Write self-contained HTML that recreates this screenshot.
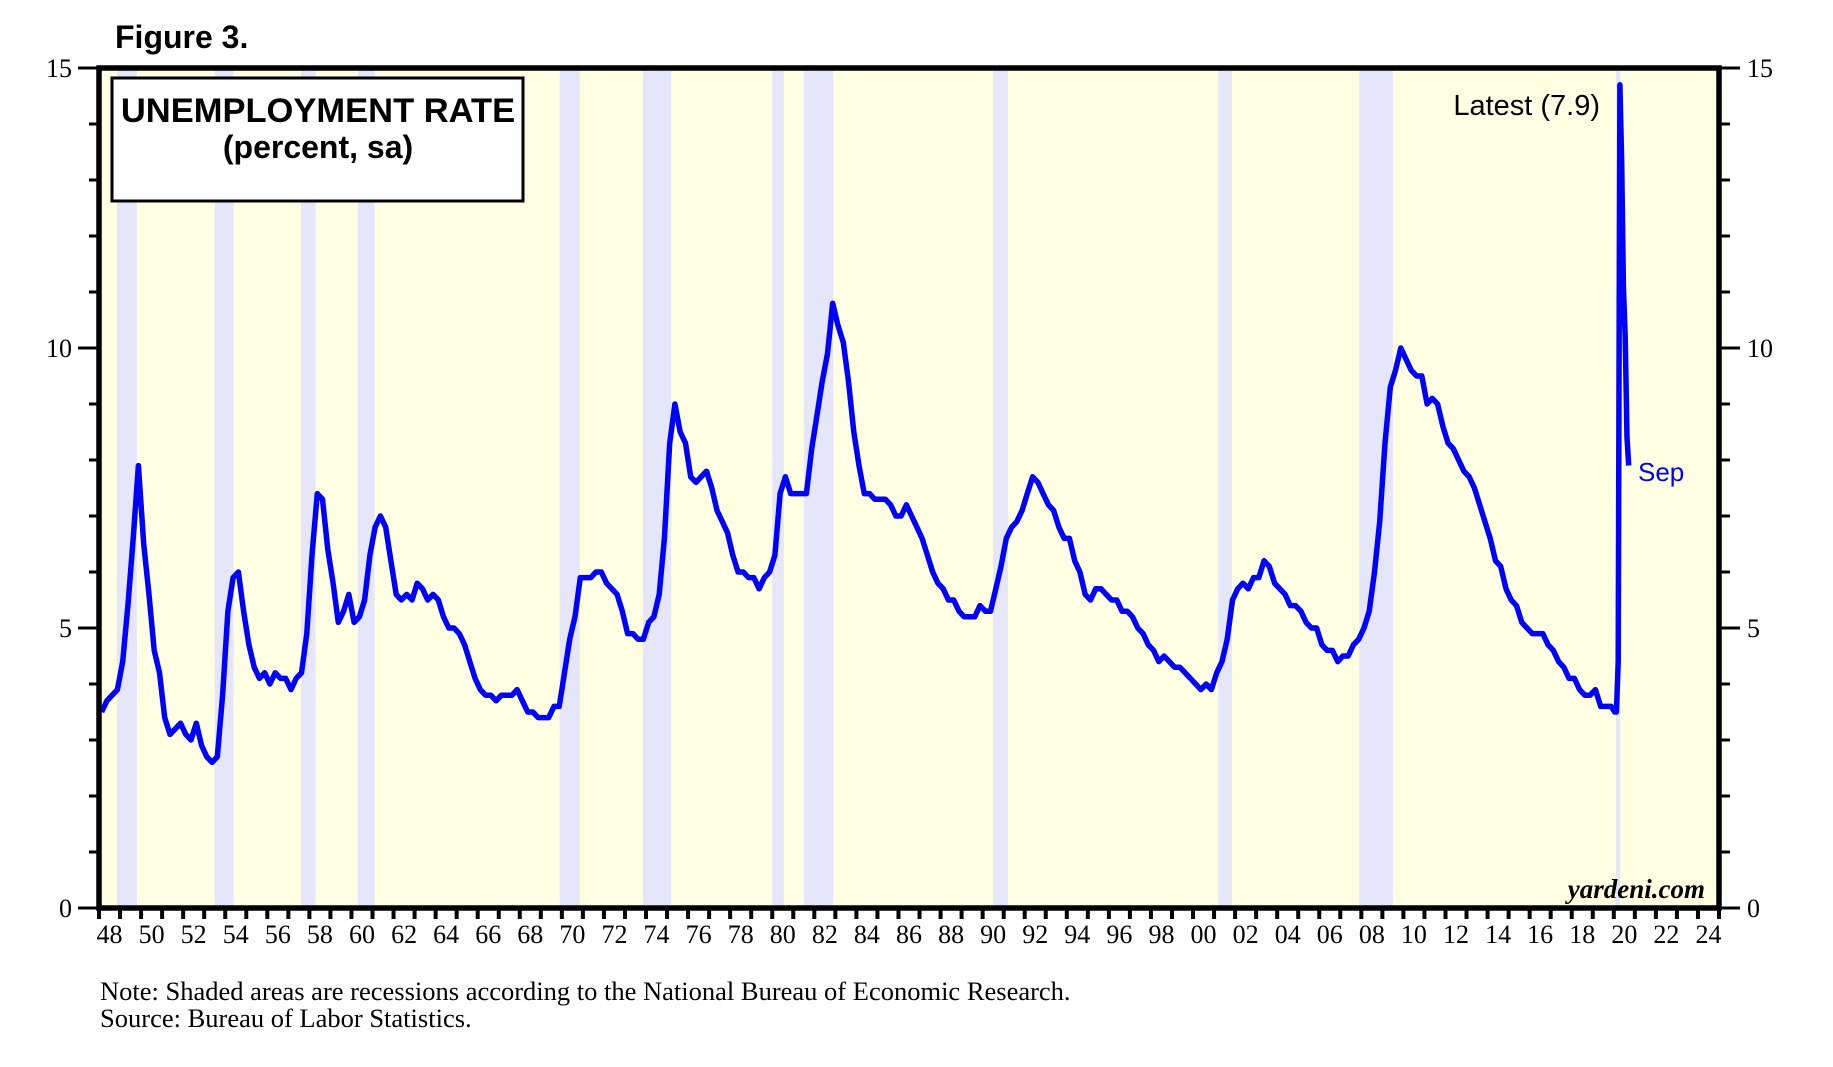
<!DOCTYPE html>
<html><head><meta charset="utf-8"><style>
html,body{margin:0;padding:0;background:#fff;}
svg{display:block;}
</style></head><body>
<svg id="chart" width="1833" height="1067" viewBox="0 0 1833 1067" xmlns="http://www.w3.org/2000/svg">
<text x="115" y="48" font-family="Liberation Sans, sans-serif" font-weight="bold" font-size="32">Figure 3.</text>
<rect x="99" y="68" width="1620" height="840" fill="#ffffe3"/>
<g id="rec"></g>
<g id="ticks"></g>
<g id="line"></g>
<rect x="99" y="68" width="1620" height="840" fill="none" stroke="#000" stroke-width="5.5"/>
<rect x="112" y="78" width="411" height="123" fill="#fff" stroke="#000" stroke-width="3"/>
<text x="318" y="122" text-anchor="middle" font-family="Liberation Sans, sans-serif" font-weight="bold" font-size="34.5">UNEMPLOYMENT RATE</text>
<text x="318" y="158" text-anchor="middle" font-family="Liberation Sans, sans-serif" font-weight="bold" font-size="32">(percent, sa)</text>
<text x="1600" y="115" text-anchor="end" font-family="Liberation Sans, sans-serif" font-size="29">Latest (7.9)</text>
<text x="1638" y="481" font-family="Liberation Sans, sans-serif" font-size="26" fill="#0000ff">Sep</text>
<text x="1705" y="898" text-anchor="end" font-family="Liberation Serif, serif" font-style="italic" font-weight="bold" font-size="27">yardeni.com</text>
<text x="100" y="1000" font-family="Liberation Serif, serif" font-size="26.5">Note: Shaded areas are recessions according to the National Bureau of Economic Research.</text>
<text x="100" y="1027" font-family="Liberation Serif, serif" font-size="26.5">Source: Bureau of Labor Statistics.</text>
</svg>
<script>
const recessionStarts=[1948.85,1953.5,1957.6,1960.3,1969.9,1973.85,1980.0,1981.5,1990.5,2001.2,2007.9,2020.1];
const recessionEnds=[1949.8,1954.4,1958.3,1961.1,1970.85,1975.2,1980.55,1982.9,1991.2,2001.85,2009.5,2020.3];
const firstYear=1948;
const quarterlyRate=[
3.5,3.7,3.8,3.9, 4.4,5.4,6.6,7.9, 6.5,5.6,4.6,4.2, 3.4,3.1,3.2,3.3, 3.1,3.0,3.3,2.9, 2.7,2.6,2.7,3.8,
5.3,5.9,6.0,5.3, 4.7,4.3,4.1,4.2, 4.0,4.2,4.1,4.1, 3.9,4.1,4.2,4.9, 6.3,7.4,7.3,6.4, 5.8,5.1,5.3,5.6,
5.1,5.2,5.5,6.3, 6.8,7.0,6.8,6.2, 5.6,5.5,5.6,5.5, 5.8,5.7,5.5,5.6, 5.5,5.2,5.0,5.0, 4.9,4.7,4.4,4.1,
3.9,3.8,3.8,3.7, 3.8,3.8,3.8,3.9, 3.7,3.5,3.5,3.4, 3.4,3.4,3.6,3.6, 4.2,4.8,5.2,5.9, 5.9,5.9,6.0,6.0,
5.8,5.7,5.6,5.3, 4.9,4.9,4.8,4.8, 5.1,5.2,5.6,6.6, 8.3,9.0,8.5,8.3, 7.7,7.6,7.7,7.8, 7.5,7.1,6.9,6.7,
6.3,6.0,6.0,5.9, 5.9,5.7,5.9,6.0, 6.3,7.4,7.7,7.4, 7.4,7.4,7.4,8.2, 8.8,9.4,9.9,10.8, 10.4,10.1,9.4,8.5,
7.9,7.4,7.4,7.3, 7.3,7.3,7.2,7.0, 7.0,7.2,7.0,6.8, 6.6,6.3,6.0,5.8, 5.7,5.5,5.5,5.3, 5.2,5.2,5.2,5.4,
5.3,5.3,5.7,6.1, 6.6,6.8,6.9,7.1, 7.4,7.7,7.6,7.4, 7.2,7.1,6.8,6.6, 6.6,6.2,6.0,5.6, 5.5,5.7,5.7,5.6,
5.5,5.5,5.3,5.3, 5.2,5.0,4.9,4.7, 4.6,4.4,4.5,4.4, 4.3,4.3,4.2,4.1, 4.0,3.9,4.0,3.9, 4.2,4.4,4.8,5.5,
5.7,5.8,5.7,5.9, 5.9,6.2,6.1,5.8, 5.7,5.6,5.4,5.4, 5.3,5.1,5.0,5.0, 4.7,4.6,4.6,4.4, 4.5,4.5,4.7,4.8,
5.0,5.3,6.0,6.9, 8.3,9.3,9.6,10.0, 9.8,9.6,9.5,9.5, 9.0,9.1,9.0,8.6, 8.3,8.2,8.0,7.8, 7.7,7.5,7.2,6.9,
6.6,6.2,6.1,5.7, 5.5,5.4,5.1,5.0, 4.9,4.9,4.9,4.7, 4.6,4.4,4.3,4.1, 4.1,3.9,3.8,3.8, 3.9,3.6,3.6,3.6];
const rate2020Monthly=[3.5,3.5,4.4,14.7,13.3,11.1,10.2,8.4,7.9];
const yTicks=[0,5,10,15];
const yTickLabels=["0","5","10","15"];
const xLabelYears=[];
for(let y=1948;y<=2024;y+=2) xLabelYears.push(y);

const X0=99,X1=1719,Y0=908,Y1=68;
const xMin=1948,xMax=2025,yMin=0,yMax=15;
function xs(t){return X0+(t-xMin)/(xMax-xMin)*(X1-X0);}
function ys(v){return Y0-(v-yMin)/(yMax-yMin)*(Y0-Y1);}
const NS="http://www.w3.org/2000/svg";
function mk(tag,attrs,parent){const e=document.createElementNS(NS,tag);for(const k in attrs)e.setAttribute(k,attrs[k]);parent.appendChild(e);return e;}

const rec=document.getElementById('rec');
recessionStarts.forEach((s,i)=>{
  const r=mk('rect',{x:xs(s),y:Y1,width:Math.max(2,xs(recessionEnds[i])-xs(s)),height:Y0-Y1,fill:'#e6e6fa'},rec);
  
  
});

const tk=document.getElementById('ticks');
for(let v=0;v<=15;v++){
  const major=v%5===0;
  const l1=mk('line',{x1:major?78:89,x2:X0,y1:ys(v),y2:ys(v),stroke:'#000','stroke-width':3},tk);
  
  
  const l2=mk('line',{x1:X1,x2:major?1740:1730,y1:ys(v),y2:ys(v),stroke:'#000','stroke-width':3},tk);
  
  
}
yTicks.forEach((v,i)=>{
  const a=mk('text',{x:72,y:ys(v)+9,'text-anchor':'end','font-family':'Liberation Serif, serif','font-size':26},tk);
  a.textContent=yTickLabels[i];
  
  
  const b=mk('text',{x:1747,y:ys(v)+9,'font-family':'Liberation Serif, serif','font-size':26},tk);
  b.textContent=yTickLabels[i];
  
  
});
for(let y=1948;y<=2025;y++){
  const t=mk('line',{x1:xs(y),x2:xs(y),y1:Y0,y2:Y0+11,stroke:'#000','stroke-width':4},tk);
  
  
}
xLabelYears.forEach(y=>{
  const t=mk('text',{x:xs(y+0.5),y:943,'text-anchor':'middle','font-family':'Liberation Serif, serif','font-size':26},tk);
  t.textContent=String(y%100).padStart(2,'0');
  
  
});

const pts=[];
quarterlyRate.forEach((v,i)=>{pts.push([firstYear+(i+0.5)/4,v]);});
rate2020Monthly.forEach((v,i)=>{pts.push([2020+(i+0.5)/12,v]);});
const d=pts.map((p,i)=>(i?'L':'M')+xs(p[0]).toFixed(1)+' '+ys(p[1]).toFixed(1)).join(' ');
const path=mk('path',{d:d,fill:'none',stroke:'#0000ff','stroke-width':5.5,'stroke-linejoin':'round'},document.getElementById('line'));


</script>
</body></html>
